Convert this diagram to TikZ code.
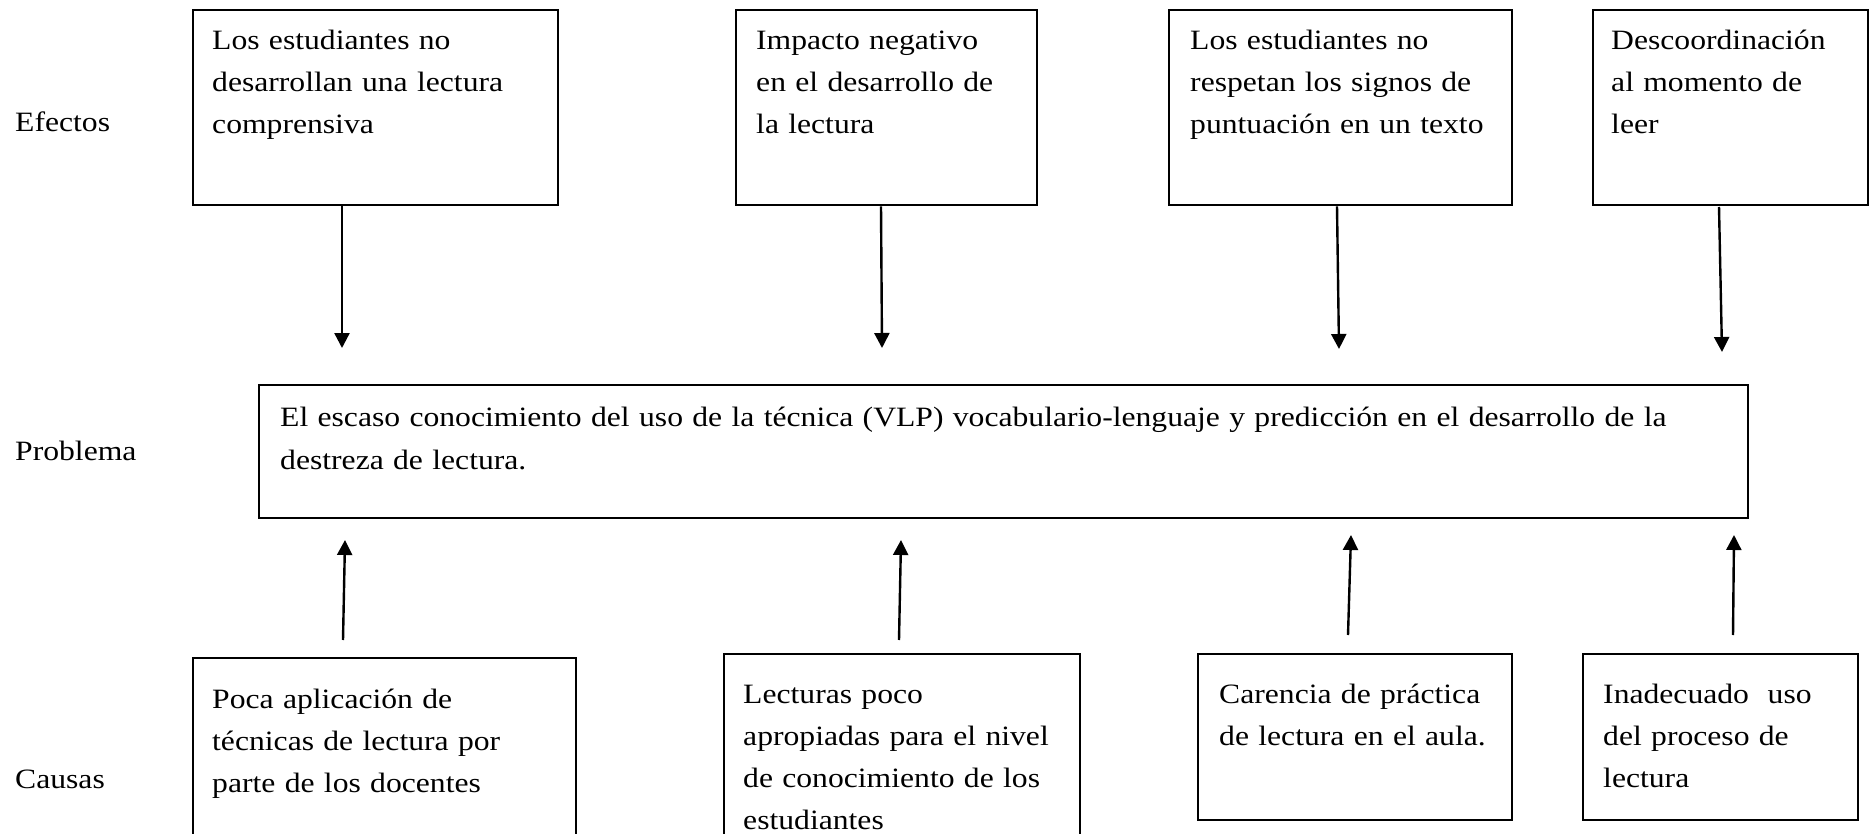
\documentclass[tikz,border=0pt]{standalone}
\usepackage{fontspec}
\setmainfont{Liberation Serif}[FakeStretch=1.13]
\usetikzlibrary{arrows.meta}
\begin{document}
\begin{tikzpicture}[x=1pt,y=-1pt,
  box/.style={draw, line width=2.4pt, anchor=north west, inner sep=0pt},
  txt/.style={anchor=base west, inner sep=0pt, align=left, font=\fontsize{28}{42}\selectfont},
  lbl/.style={anchor=base west, inner sep=0pt, font=\fontsize{28}{42}\selectfont},
  arr/.style={line width=2.4pt, -{Triangle[length=15pt,width=15pt]}}]
\useasboundingbox (0,0) rectangle (1873,834);
\fill[white] (0,0) rectangle (1873,834);

% labels
\node[lbl] (lef) at (15,132) {Efectos};
\node[lbl] (lpr) at (15,460) {Problema};
\node[lbl] (lca) at (15,788) {Causas};

% effect boxes
\node[box, minimum width=365pt, minimum height=195pt] (e1) at (192,9) {};
\node[box, minimum width=301pt, minimum height=195pt] (e2) at (735,9) {};
\node[box, minimum width=343pt, minimum height=195pt] (e3) at (1168,9) {};
\node[box, minimum width=275pt, minimum height=195pt] (e4) at (1592,9) {};
\node[txt, text width=340pt] (et1) at (212,50) {Los estudiantes no\\desarrollan una lectura\\comprensiva};
\node[txt, text width=280pt] (et2) at (756,50) {Impacto negativo\\en el desarrollo de\\la lectura};
\node[txt, text width=320pt] (et3) at (1190,50) {Los estudiantes no\\respetan los signos de\\puntuación en un texto};
\node[txt, text width=260pt] (et4) at (1611,50) {Descoordinación\\al momento de\\leer};

% problem box
\node[box, minimum width=1489pt, minimum height=133pt] (p) at (258,384) {};
\node[txt, text width=1460pt, font=\fontsize{28}{43}\selectfont] (pt) at (280,426) {El escaso conocimiento del uso de la técnica (VLP) vocabulario-lenguaje y predicción en el desarrollo de la\\destreza de lectura.};

% cause boxes
\node[box, minimum width=383pt, minimum height=182pt] (c1) at (192,657) {};
\node[box, minimum width=356pt, minimum height=186pt] (c2) at (723,653) {};
\node[box, minimum width=314pt, minimum height=166pt] (c3) at (1197,653) {};
\node[box, minimum width=275pt, minimum height=166pt] (c4) at (1582,653) {};
\node[txt, text width=360pt] (ct1) at (212,708) {Poca aplicación de\\técnicas de lectura por\\parte de los docentes};
\node[txt, text width=330pt] (ct2) at (743,703) {Lecturas poco\\apropiadas para el nivel\\de conocimiento de los\\estudiantes};
\node[txt, text width=290pt] (ct3) at (1219,703) {Carencia de práctica\\de lectura en el aula.};
\node[txt, text width=250pt] (ct4) at (1603,703) {Inadecuado~ uso\\del proceso de\\lectura};

% arrow endpoints
\coordinate (s1) at (342,205);  \coordinate (t1) at (342,348);
\coordinate (s2) at (881,205);  \coordinate (t2) at (882,348);
\coordinate (s3) at (1337,205); \coordinate (t3) at (1339,349);
\coordinate (s4) at (1719,207); \coordinate (t4) at (1722,352);
\coordinate (s5) at (343,640);  \coordinate (t5) at (345,540);
\coordinate (s6) at (899,640);  \coordinate (t6) at (901,540);
\coordinate (s7) at (1348,635); \coordinate (t7) at (1351,535);
\coordinate (s8) at (1733,635); \coordinate (t8) at (1734,535);

\draw[arr] (e1.south -| s1) -- (t1);
\draw[arr] (e2.south -| s2) -- (t2);
\draw[arr] (e3.south -| s3) -- (t3);
\draw[arr] (s4) -- (t4);
\draw[arr] (s5) -- (t5);
\draw[arr] (s6) -- (t6);
\draw[arr] (s7) -- (t7);
\draw[arr] (s8) -- (t8);
\end{tikzpicture}
\end{document}
